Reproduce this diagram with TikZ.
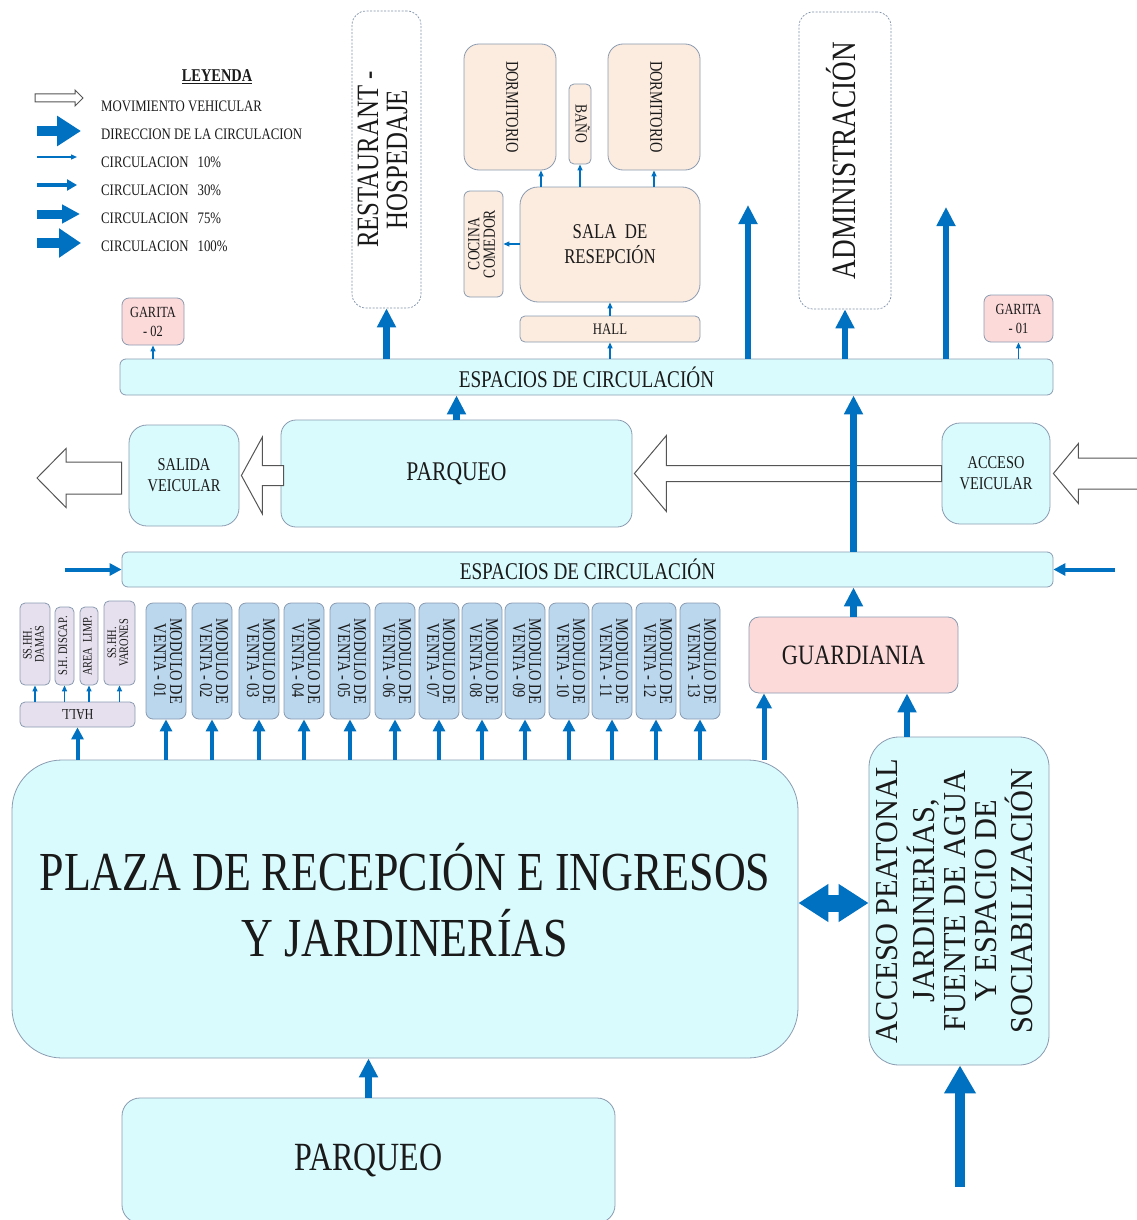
\documentclass[tikz,border=0pt]{standalone}
\usepackage{fontspec}
\setmainfont{Liberation Serif}[FakeStretch=0.8]
\newfontfamily\widefont{Liberation Serif}[FakeStretch=0.95]
\usetikzlibrary{arrows.meta,calc}

\definecolor{flowblue}{HTML}{0070C0}
\definecolor{cyanfill}{HTML}{DAFBFD}
\definecolor{boxline}{HTML}{8A9BB0}
\definecolor{dashline}{HTML}{7F90A8}
\definecolor{peachfill}{HTML}{FCEBDF}
\definecolor{pinkfill}{HTML}{FDDADA}
\definecolor{modfill}{HTML}{BAD7EE}
\definecolor{lilacfill}{HTML}{E6E0EE}
\definecolor{ink}{HTML}{1A1A1A}
\definecolor{hollowline}{HTML}{555555}

\newcommand{\turntext}[2]{\rotatebox{#1}{\begin{tabular}{@{}c@{}}#2\end{tabular}}}
\newcommand{\hollowleft}[5]{\draw[hollow] let \p1=#1, \p2=#2 in
  (\x1,\y1) -- (\x1+#5,\y1+#4) -- (\x1+#5,\y1+#3) -- (\x2,\y1+#3) --
  (\x2,\y1-#3) -- (\x1+#5,\y1-#3) -- (\x1+#5,\y1-#4) -- cycle;}

\begin{document}
\begin{tikzpicture}[x=1pt, y=-1pt,
    box/.style={draw=boxline, line width=0.8pt, rounded corners=#1, inner sep=0pt, align=center, text=ink},
    box/.default=8pt,
    cyanbox/.style={box=#1, fill=cyanfill}, cyanbox/.default=8pt,
    peachbox/.style={box=#1, fill=peachfill}, peachbox/.default=8pt,
    pinkbox/.style={box=#1, fill=pinkfill}, pinkbox/.default=8pt,
    modbox/.style={box=7pt, fill=modfill, minimum width=40pt, minimum height=116pt, font=\fontsize{18}{14}\selectfont},
    lilacbox/.style={box=5pt, fill=lilacfill, font=\fontsize{13}{11}\selectfont},
    dashbox/.style={draw=dashline, line width=0.7pt, dash pattern=on 2pt off 1.5pt, rounded corners=14pt, inner sep=0pt, text=ink},
    legtext/.style={anchor=west, inner sep=0pt, text=ink, font=\fontsize{16}{18}\selectfont},
    hollow/.style={draw=hollowline, fill=white, line width=1pt, line join=miter},
    flow10/.style={draw=flowblue, line width=1.2pt, -{Triangle[width=5pt,length=6pt]}},
    flow30/.style={draw=flowblue, line width=4pt, -{Triangle[width=12pt,length=12pt]}},
    flow75/.style={draw=flowblue, line width=6.5pt, -{Triangle[width=18pt,length=19pt]}},
    flow100/.style={draw=flowblue, line width=10pt, -{Triangle[width=30pt,length=28pt]}},
    flowboth/.style={draw=flowblue, line width=17pt, {Triangle[width=36pt,length=30pt]}-{Triangle[width=36pt,length=30pt]}}]
  \useasboundingbox (0,0) rectangle (1137,1220);
  \clip (0,0) rectangle (1137,1220);

  % legend
  \node[text=ink, inner sep=0pt, font=\fontsize{18}{18}\selectfont\bfseries] (leyenda) at (217,77) {\underline{LEYENDA}};
  \node[legtext] (lg1) at (101,106) {MOVIMIENTO VEHICULAR};
  \node[legtext] (lg2) at (101,134) {DIRECCION DE LA CIRCULACION};
  \node[legtext] (lg3) at (101,162) {CIRCULACION\hspace{9pt}10\%};
  \node[legtext] (lg4) at (101,190) {CIRCULACION\hspace{9pt}30\%};
  \node[legtext] (lg5) at (101,218) {CIRCULACION\hspace{9pt}75\%};
  \node[legtext] (lg6) at (101,246) {CIRCULACION\hspace{9pt}100\%};
  \hollowleft{(83,98)}{(35,98)}{4pt}{8pt}{-8pt}
  \draw[flow100, line width=10pt, -{Triangle[width=29pt,length=24pt]}] (37,131) -- (81,131);
  \draw[flow10] (37,157) -- (77,157);
  \draw[flow30, line width=3.5pt, -{Triangle[width=11pt,length=10pt]}] (37,185) -- (77,185);
  \draw[flow75, line width=9pt, -{Triangle[width=18pt,length=18pt]}] (37,214) -- (80,214);
  \draw[flow100, line width=10pt, -{Triangle[width=28pt,length=22pt]}] (37,243) -- (81,243);

  % upper block
  \node[dashbox, minimum width=69pt, minimum height=297pt, font=\fontsize{31}{28}\selectfont] (rest) at (386.5,159.5) {\turntext{90}{RESTAURANT -\\HOSPEDAJE}};
  \node[dashbox, minimum width=92pt, minimum height=297pt, font=\fontsize{34}{30}\selectfont] (admin) at (845,160.5) {\turntext{90}{ADMINISTRACIÓN}};
  \node[peachbox=15pt, minimum width=92pt, minimum height=126pt, font=\fontsize{18}{18}\selectfont] (dorm1) at (510,107) {\turntext{-90}{DORMITORIO}};
  \node[peachbox=15pt, minimum width=92pt, minimum height=126pt, font=\fontsize{18}{18}\selectfont] (dorm2) at (654,107) {\turntext{-90}{DORMITORIO}};
  \node[peachbox=5pt, minimum width=22pt, minimum height=80pt, font=\fontsize{17}{18}\selectfont] (bano) at (580,124) {\turntext{-90}{BAÑO}};
  \node[peachbox=6pt, minimum width=39pt, minimum height=106pt, font=\fontsize{17}{14}\selectfont] (cocina) at (483.5,244) {\turntext{90}{COCINA\\COMEDOR}};
  \node[peachbox=18pt, minimum width=180pt, minimum height=115pt, font=\fontsize{21}{25}\selectfont] (sala) at (610,244.5) {SALA\ \ DE\\RESEPCIÓN};
  \node[peachbox=5pt, minimum width=180pt, minimum height=26pt, font=\fontsize{16}{18}\selectfont] (hall1) at (610,329) {HALL};
  \node[pinkbox=7pt, minimum width=62pt, minimum height=47pt, font=\fontsize{15.5}{19}\selectfont] (gar2) at (153,321.5) {GARITA\\- 02};
  \node[pinkbox=7pt, minimum width=69pt, minimum height=47pt, font=\fontsize{15.5}{19}\selectfont] (gar1) at (1018.5,318.5) {GARITA\\- 01};
  \node[cyanbox=6pt, minimum width=933pt, minimum height=36pt, font=\fontsize{24}{26}\selectfont] (esp1) at (586.5,377) {ESPACIOS DE CIRCULACIÓN};

  % parking row
  \node[cyanbox=15pt, minimum width=351pt, minimum height=107pt, font=\fontsize{27}{30}\selectfont] (park1) at (456.5,473.5) {PARQUEO};
  \node[cyanbox=18pt, minimum width=110pt, minimum height=101pt, font=\fontsize{18}{21}\selectfont] (salida) at (184,475.5) {SALIDA\\VEICULAR};
  \node[cyanbox=18pt, minimum width=108pt, minimum height=101pt, font=\fontsize{18}{21}\selectfont] (acceso) at (996,473.5) {ACCESO\\VEICULAR};
  \node[cyanbox=6pt, minimum width=931pt, minimum height=35pt, font=\fontsize{24}{26}\selectfont] (esp2) at (587.5,569.5) {ESPACIOS DE CIRCULACIÓN};

  % modules and services
  \node[pinkbox=10pt, minimum width=209pt, minimum height=76pt, font=\fontsize{28}{30}\selectfont] (guard) at (853.5,655) {GUARDIANIA};
  \foreach \n/\xm in {01/166,02/212,03/259,04/304,05/350,06/395,07/439,08/482,09/525,10/569,11/612,12/656,13/700}
    \node[modbox] (mod\n) at (\xm,661) {\turntext{-90}{MODULO DE\\VENTA - \n}};
  \node[lilacbox, minimum width=30pt, minimum height=82pt] (damas) at (35,644) {\turntext{90}{SS.HH.\\DAMAS}};
  \node[lilacbox, minimum width=19pt, minimum height=78pt] (discap) at (64.5,646) {\turntext{90}{S.H. DISCAP.}};
  \node[lilacbox, minimum width=18pt, minimum height=78pt] (limp) at (89,646) {\turntext{90}{AREA\ \ LIMP.}};
  \node[lilacbox, minimum width=31pt, minimum height=84pt] (varones) at (119.5,643) {\turntext{90}{SS.HH.\\VARONES}};
  \node[lilacbox, minimum width=115pt, minimum height=25pt, font=\fontsize{15}{16}\selectfont] (hall2) at (77.5,714.5) {\rotatebox{180}{HALL}};

  % plaza and access
  \node[cyanbox=50pt, minimum width=786pt, minimum height=298pt, font=\fontsize{55}{62}\selectfont] (plaza) at (405,909) {\raisebox{5pt}{\begin{tabular}{@{}c@{}}PLAZA DE RECEPCIÓN E INGRESOS\\Y JARDINERÍAS\end{tabular}}};
  \node[cyanbox=30pt, minimum width=180pt, minimum height=328pt, font=\widefont\fontsize{32}{31}\selectfont] (peat) at (959,901) {\turntext{90}{ACCESO PEATONAL\\JARDINERÍAS,\\FUENTE DE AGUA\\Y ESPACIO DE\\SOCIABILIZACIÓN}};
  \node[cyanbox=18pt, minimum width=493pt, minimum height=125pt, font=\fontsize{40}{42}\selectfont] (park2) at (368.5,1160.5) {PARQUEO};

  % vehicle flow
  \hollowleft{(37,478)}{($(salida.west)+(-7,0)$)}{16pt}{29.5pt}{29pt}
  \hollowleft{($(salida.east)+(2,0)$)}{($(park1.west)+(3,0)$)}{10pt}{38.5pt}{21pt}
  \hollowleft{($(park1.east)+(2,0)$)}{(acceso.west)}{8pt}{38pt}{32pt}
  \hollowleft{($(acceso.east)+(3,0)$)}{(1145,476)}{15.5pt}{30pt}{25pt}

  % circulation
  \coordinate (upA) at (748,205);
  \coordinate (upB) at (946,207);
  \coordinate (sideL) at (65,569.5);
  \coordinate (sideR) at (1115,569.5);
  \coordinate (walkin) at (960,1187);
  \draw[flow75] (esp1.north -| rest) -- (rest.south);
  \draw[flow75] (esp1.north -| upA) -- (upA);
  \draw[flow75] (esp1.north -| admin) -- (admin.south);
  \draw[flow75] (esp1.north -| upB) -- (upB);
  \draw[flow10] (esp1.north -| gar2) -- (gar2.south);
  \draw[flow10] (esp1.north -| gar1) -- (gar1.south);
  \draw[flow10] (esp1.north -| hall1) -- (hall1.south);
  \draw[flow10] (hall1.north) -- (sala.south);
  \draw[flow10] (541,0 |- sala.north) -- (541,0 |- dorm1.south);
  \draw[flow10] (sala.north -| bano) -- (bano.south);
  \draw[flow10] (sala.north -| dorm2) -- (dorm2.south);
  \draw[flow10] (sala.west |- cocina) -- (cocina.east);
  \draw[flow75] (park1.north) -- (esp1.south -| park1);
  \draw[flow75] (esp2.north -| guard) -- (esp1.south -| guard);
  \draw[flow75] (guard.north) -- (esp2.south -| guard);
  \draw[flow30] (sideL) -- (esp2.west |- sideL);
  \draw[flow30] (sideR) -- (esp2.east |- sideR);
  \foreach \n in {01,02,03,04,05,06,07,08,09,10,11,12,13}
    \draw[flow30] (plaza.north -| mod\n) -- (mod\n.south);
  \draw[flow30] (plaza.north -| hall2) -- (hall2.south);
  \foreach \s in {damas,discap,limp,varones}
    \draw[flow10] (hall2.north -| \s) -- (\s.south);
  \draw[flow30, line width=5pt, -{Triangle[width=15pt,length=15pt]}] (764,0 |- plaza.north) -- (764,0 |- guard.south);
  \draw[flow75] (907,0 |- peat.north) -- (907,0 |- guard.south);
  \draw[flowboth] (plaza.east |- 0,903) -- (peat.west |- 0,903);
  \draw[flow100] (walkin) -- (peat.south -| walkin);
  \draw[flow75] (park2.north) -- (plaza.south -| park2);
\end{tikzpicture}
\end{document}
